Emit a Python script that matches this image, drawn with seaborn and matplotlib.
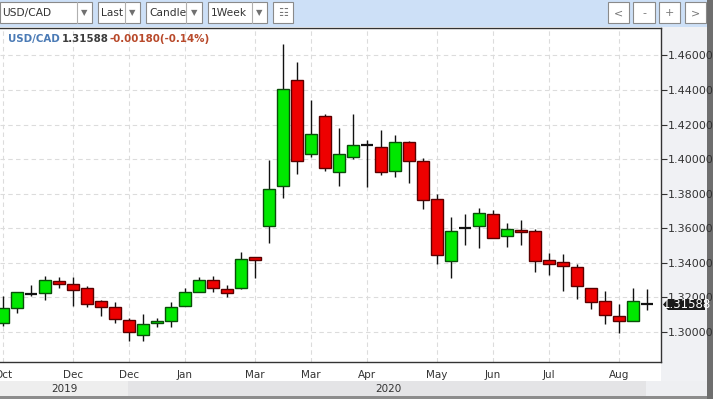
import matplotlib
matplotlib.use("Agg")
import matplotlib.pyplot as plt
from matplotlib.patches import Rectangle, Polygon
import seaborn as sns
import pandas as pd

# Weekly USD/CAD candles
opens = [1.3053, 1.3138, 1.3224, 1.3223, 1.3297, 1.3280, 1.3257, 1.3178, 1.3144, 1.3070,
         1.2985, 1.3053, 1.3065, 1.3150, 1.3234, 1.3302, 1.3246, 1.3252, 1.3433, 1.3614,
         1.3846, 1.4458, 1.4028, 1.4249, 1.3926, 1.4011, 1.4085, 1.4073, 1.3931, 1.4101,
         1.3988, 1.3767, 1.3410, 1.3602, 1.3614, 1.3682, 1.3557, 1.3591, 1.3586, 1.3416,
         1.3404, 1.3376, 1.3257, 1.3178, 1.3093, 1.3065, 1.3161]
highs = [1.3206, 1.3234, 1.3269, 1.3325, 1.3319, 1.3319, 1.3263, 1.3183, 1.3172, 1.3082,
         1.3104, 1.3082, 1.3172, 1.3257, 1.3319, 1.3325, 1.3274, 1.3461, 1.3436, 1.3994,
         1.4668, 1.4560, 1.4345, 1.4260, 1.4181, 1.4260, 1.4113, 1.4169, 1.4141, 1.4107,
         1.4005, 1.3801, 1.3665, 1.3682, 1.3716, 1.3705, 1.3631, 1.3648, 1.3597, 1.3455,
         1.3450, 1.3393, 1.3257, 1.3235, 1.3161, 1.3257, 1.3246]
lows = [1.3036, 1.3110, 1.3206, 1.3183, 1.3257, 1.3150, 1.3144, 1.3093, 1.3053, 1.2946,
        1.2946, 1.3031, 1.3031, 1.3150, 1.3229, 1.3234, 1.3200, 1.3246, 1.3314, 1.3512,
        1.3778, 1.3914, 1.4011, 1.3931, 1.3846, 1.3999, 1.3841, 1.3909, 1.3897, 1.3863,
        1.3710, 1.3393, 1.3314, 1.3506, 1.3484, 1.3546, 1.3490, 1.3501, 1.3348, 1.3331,
        1.3235, 1.3189, 1.3133, 1.3048, 1.2991, 1.3065, 1.3127]
closes = [1.3138, 1.3229, 1.3222, 1.3302, 1.3280, 1.3240, 1.3161, 1.3144, 1.3076, 1.2997,
          1.3048, 1.3065, 1.3144, 1.3229, 1.3302, 1.3252, 1.3223, 1.3421, 1.3416, 1.3829,
          1.4407, 1.3988, 1.4147, 1.3948, 1.4028, 1.4084, 1.4083, 1.3926, 1.4101, 1.3988,
          1.3761, 1.3444, 1.3586, 1.3604, 1.3688, 1.3546, 1.3597, 1.3580, 1.3410, 1.3393,
          1.3382, 1.3263, 1.3172, 1.3099, 1.3065, 1.3178, 1.31588]

month_ticks = [0, 5, 9, 13, 18, 22, 26, 31, 35, 39, 44]
month_labels = ["Oct", "Dec", "Dec", "Jan", "Mar", "Mar", "Apr", "May", "Jun", "Jul", "Aug"]
price_ticks = [1.30, 1.32, 1.34, 1.36, 1.38, 1.40, 1.42, 1.44, 1.46]
year_labels = ["2019", "2020"]
year_edges = [-0.22, 9, 46]

symbol = "USD/CAD"
last_price = 1.31588
change = -0.00180
change_pct = -0.14

df = pd.DataFrame({"open": opens, "high": highs, "low": lows, "close": closes})
df["bottom"] = df[["open", "close"]].min(axis=1)
df["height"] = (df["close"] - df["open"]).abs()
df["up"] = df["close"] >= df["open"]
df["doji"] = df["height"] < 0.0003

sns.set_style("white")
plt.rcParams["font.family"] = ["DejaVu Sans"]
narrow = ["Liberation Sans Narrow", "DejaVu Sans"]

W, H = 713, 399
fig = plt.figure(figsize=(W / 100, H / 100), dpi=100)
fig.patch.set_facecolor("white")


def box(x0, y0, x1, y1, **kw):
    fig.add_artist(Rectangle((x0 / W, 1 - y1 / H), (x1 - x0) / W, (y1 - y0) / H,
                             transform=fig.transFigure, **kw))


def ftext(x, y, s, **kw):
    fig.text(x / W, 1 - y / H, s, **kw)


# background panels
box(0, 0, W, 27, facecolor="#cde0f7", edgecolor="none", zorder=0)
box(661, 27, 707, 397, facecolor="#f0f1f4", edgecolor="none", zorder=0)
box(0, 381, 128, 397, facecolor="#eeeeee", edgecolor="none", zorder=0)
box(128, 381, 646, 397, facecolor="#e4e4e6", edgecolor="none", zorder=0)
box(646, 381, 707, 397, facecolor="#eeeff2", edgecolor="none", zorder=0)
box(0, 396, 707, 399, facecolor="#8c8c8c", edgecolor="none", zorder=0)
box(707, 0, W, H, facecolor="#6e6e6e", edgecolor="none", zorder=0)

ax = fig.add_axes([0, 1 - 362 / H, 661 / W, (362 - 28) / H])
ax.set_facecolor("white")

# wicks, then bodies
ax.vlines(df.index, df["low"], df["high"], color="#111111", lw=1, zorder=2)
body = df[~df["doji"]]
face = body["up"].map({True: "#00e800", False: "#ee0000"})
edge = body["up"].map({True: "#0a4d0a", False: "#5a0000"})
ax.bar(body.index, body["height"], bottom=body["bottom"], width=0.8,
       color=face, edgecolor=edge, linewidth=1, zorder=3)
dj = df[df["doji"]]
ax.hlines(dj["close"], dj.index - 0.42, dj.index + 0.42, color="#111111", lw=1.6, zorder=3)

ax.set_xlim(-0.22, 47.0)
ax.set_ylim(1.2826, 1.4759)
ax.set_xticks(month_ticks)
ax.set_xticklabels(month_labels, fontsize=7.5, color="#333333", family=narrow)
ax.yaxis.tick_right()
ax.set_yticks(price_ticks)
ax.set_yticklabels([f"{v:.5f}" for v in price_ticks], fontsize=8, color="#333333", family=narrow)
ax.tick_params(axis="both", length=4, width=0.8, color="#333333", pad=1)
ax.tick_params(axis="x", length=3, pad=3)
ax.grid(True, color="#dcdcdc", linestyle=(0, (4, 3)), lw=0.8)
ax.set_axisbelow(True)
ax.spines["left"].set_visible(False)
for s in ["top", "right", "bottom"]:
    ax.spines[s].set_color("#333333")
    ax.spines[s].set_linewidth(1)

# year band labels
for lab, a, b in zip(year_labels, year_edges[:-1], year_edges[1:]):
    xm = (a + b) / 2
    xp = ax.transData.transform((xm, 0))[0]
    ftext(xp, 389, lab, fontsize=7.5, color="#333333", family=narrow, ha="center", va="center")

# header quote
ftext(8, 39, symbol, fontsize=7.4, color="#4a7ab5", weight="bold", va="center")
ftext(62, 39, f"{last_price:.5f}", fontsize=7.4, color="#3c3c3c", weight="bold", va="center")
ftext(110, 39, f"{change:.5f}({change_pct:.2f}%)", fontsize=7.4, color="#b8492a",
      weight="bold", va="center")

# last price tag
yp = H - ax.transData.transform((0, last_price))[1]
fig.add_artist(Polygon([(663 / W, 1 - yp / H), (668 / W, 1 - (yp - 5.5) / H), (705 / W, 1 - (yp - 5.5) / H),
                        (705 / W, 1 - (yp + 5.5) / H), (668 / W, 1 - (yp + 5.5) / H)],
                       closed=True, transform=fig.transFigure, facecolor="#1a1a1a",
                       edgecolor="none", zorder=5))
ftext(686.5, yp, f"{last_price:.5f}", fontsize=8.5, color="white", family=narrow,
      ha="center", va="center", zorder=6)

# toolbar controls
drops = [(0, 92, 77, symbol, 2), (98, 140, 125, "Last", 3), (146, 202, 186, "Candle", 3),
         (208, 267, 252, "1Week", 3)]
for x0, x1, xs, lab, pad in drops:
    box(x0, 2, x1, 23, facecolor="white", edgecolor="#8a8a8a", lw=0.8, zorder=1)
    fig.add_artist(plt.Line2D([xs / W, xs / W], [1 - 2 / H, 1 - 23 / H],
                              transform=fig.transFigure, color="#b0b0b0", lw=0.8))
    ftext(x0 + pad, 13, lab, fontsize=7.7, color="#333333", va="center")
    ftext((xs + x1) / 2, 13, "\u25bc", fontsize=6, color="#707070", ha="center", va="center")
box(273, 2, 293, 23, facecolor="white", edgecolor="#8a8a8a", lw=0.8, zorder=1)
ftext(283, 13, "\u2637", fontsize=8, color="#777777", ha="center", va="center")
for x0, x1, lab in [(608, 629, "<"), (633, 655, "-"), (659, 680, "+"), (685, 706, ">")]:
    box(x0, 2, x1, 23, facecolor="white", edgecolor="#8a8a8a", lw=0.8, zorder=1)
    ftext((x0 + x1) / 2, 13, lab, fontsize=8, color="#777777", ha="center", va="center")

fig.savefig("out.png", dpi=100)
